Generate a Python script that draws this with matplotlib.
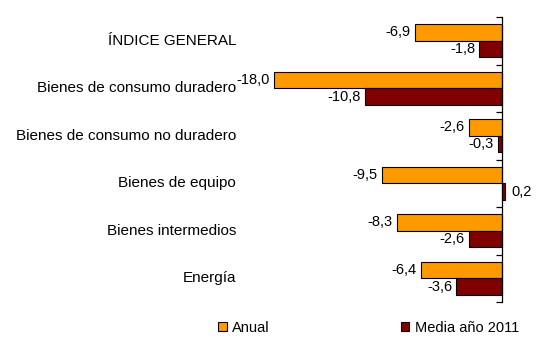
import matplotlib
matplotlib.use("Agg")
import matplotlib.pyplot as plt
import matplotlib.transforms as mtrans
from matplotlib.patches import Patch

plt.rcParams['font.family'] = ['Liberation Sans', 'DejaVu Sans']

categories = ["ÍNDICE GENERAL", "Bienes de consumo duradero", "Bienes de consumo no duradero",
              "Bienes de equipo", "Bienes intermedios", "Energía"]
anual = [-6.9, -18.0, -2.6, -9.5, -8.3, -6.4]
media = [-1.8, -10.8, -0.3, 0.2, -2.6, -3.6]
series_names = ["Anual", "Media año 2011"]
colors = ["#FF9900", "#800000"]

fig = plt.figure(figsize=(5.41, 3.60), dpi=100)
W, H = 541, 360
ax = fig.add_axes([260 / W, 1 - 302 / H, 261 / W, 285 / H])

n = len(categories)
ypos = list(range(n))
bh = 0.35
off = 0.175
fs = 10.5

for vals, color, sgn in [(anual, colors[0], -1), (media, colors[1], 1)]:
    ys = [y + sgn * off for y in ypos]
    ax.barh(ys, vals, height=bh, color=color, edgecolor="black", linewidth=0.8)
    for y, v in zip(ys, vals):
        txt = f"{v:.1f}".replace(".", ",")
        if v < 0:
            ax.annotate(txt, (v, y), xytext=(-3, 0), textcoords="offset points",
                        ha="right", va="center", fontsize=fs)
        else:
            ax.annotate(txt, (v, y), xytext=(5, 0), textcoords="offset points",
                        ha="left", va="center", fontsize=fs)

ax.set_xlim(-19.1, 1.5)
ax.set_ylim(n - 0.5, -0.5)

trans = mtrans.blended_transform_factory(ax.transAxes, ax.transData)
for y, c in zip(ypos, categories):
    ax.text((236 - 260) / 261, y, c, transform=trans, ha="right", va="center", fontsize=11)

for s in ["top", "right", "bottom"]:
    ax.spines[s].set_visible(False)
ax.spines["left"].set_position(("data", 0))
ax.spines["left"].set_color("black")
ax.spines["left"].set_linewidth(0.9)
ax.set_yticks([i - 0.5 for i in range(n + 1)])
ax.set_yticklabels([])
ax.tick_params(axis="y", direction="out", length=4, width=0.9, color="black")
ax.set_xticks([])

handles = [Patch(facecolor=colors[0], edgecolor="black", linewidth=0.8),
           Patch(facecolor=colors[1], edgecolor="black", linewidth=0.8)]
fig.legend(handles, series_names, loc="center left", bbox_to_anchor=(218 / W, 1 - 328 / H),
           ncol=2, frameon=False, fontsize=fs, handlelength=0.6, handleheight=0.6,
           handletextpad=0.35, columnspacing=9.0, borderpad=0, borderaxespad=0)

fig.savefig("out.png", dpi=100)
